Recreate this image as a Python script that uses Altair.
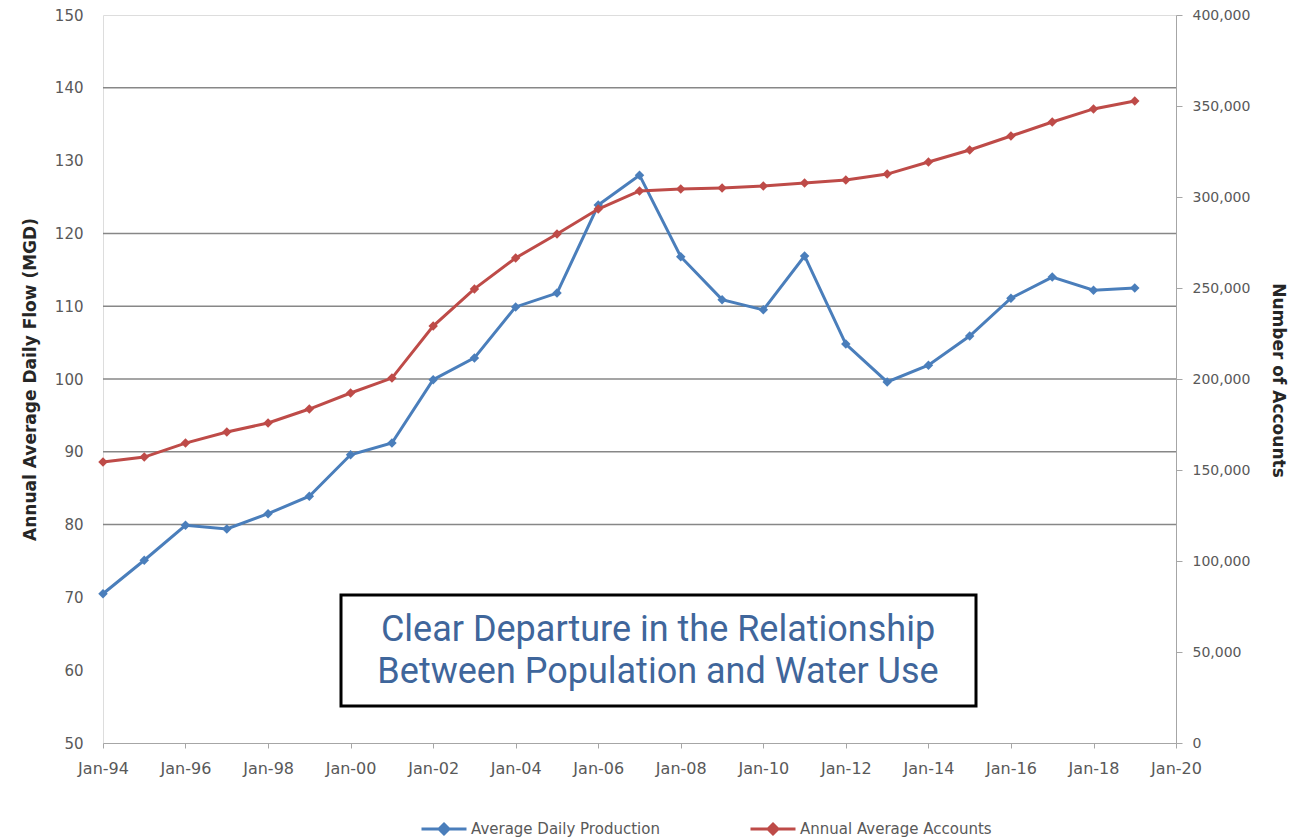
import altair as alt
import pandas as pd

years = list(range(1994, 2020))
production = [70.5, 75.1, 79.9, 79.4, 81.5, 83.9, 89.6, 91.2, 99.9, 102.9, 109.9, 111.8, 123.9,
              128.0, 116.8, 110.9, 109.5, 116.9, 104.8, 99.6, 101.9, 105.9, 111.1, 114.0, 112.2, 112.5]
accounts = [154400, 157100, 164800, 170900, 175800, 183500, 192300, 200500, 229100, 249500,
            266500, 279700, 293400, 303300, 304400, 305000, 306000, 307700, 309300, 312600,
            319200, 325800, 333500, 341200, 348400, 352700]
left_ticks = [50, 60, 70, 80, 90, 100, 110, 120, 130, 140, 150]
right_ticks = [0, 50000, 100000, 150000, 200000, 250000, 300000, 350000, 400000]
grid_values = [80, 90, 100, 110, 120, 140]
x_tick_years = list(range(1994, 2021, 2))
series_names = ["Average Daily Production", "Annual Average Accounts"]
series_colors = ["#4A7EBB", "#BE4B48"]
note_lines = ["Clear Departure in the Relationship", "Between Population and Water Use"]

def ms(y):
    return int(pd.Timestamp(f"{y}-01-01", tz="UTC").value // 10**6)

prod_df = pd.DataFrame({"date": [ms(y) for y in years], "value": production, "series": series_names[0]})
acc_df = pd.DataFrame({"date": [ms(y) for y in years], "value": accounts, "series": series_names[1]})
grid_df = pd.DataFrame({"value": grid_values})

FONT = "DejaVu Sans"
LABEL_COLOR = "#595959"

x_enc = alt.X(
    "date:T",
    scale=alt.Scale(type="utc", domain=[ms(1994), ms(2020)]),
    axis=alt.Axis(values=[ms(y) for y in x_tick_years], labelExpr="utcFormat(datum.value, '%b-%y')",
                  title=None, grid=False, tickSize=5, tickColor="#a6a6a6", domainColor="#a6a6a6",
                  labelPadding=12, labelFontSize=16, labelColor=LABEL_COLOR, labelFont=FONT,
                  labelFlush=False, labelOverlap=False),
)

color_enc = alt.Color(
    "series:N",
    scale=alt.Scale(domain=series_names, range=series_colors),
    legend=alt.Legend(
        title=None, orient="none", legendX=317, legendY=790, direction="horizontal",
        symbolType="M-1,0L1,0M0,-0.22L0.22,0L0,0.22L-0.22,0Z", symbolSize=2025,
        symbolStrokeWidth=3, labelFontSize=15, labelColor=LABEL_COLOR, labelFont=FONT,
        columnPadding=84, labelOffset=3, labelLimit=400,
    ),
)

left_scale = alt.Scale(domain=[50, 150], nice=False, zero=False)
right_scale = alt.Scale(domain=[0, 400000], nice=False)

left_axis = alt.Axis(values=left_ticks, title="Annual Average Daily Flow (MGD)", orient="left",
                     grid=False, ticks=False, domain=False, labelPadding=20, labelFontSize=15,
                     labelColor=LABEL_COLOR, labelFont=FONT, titleFont=FONT, titleFontSize=17,
                     titleFontWeight="bold", titleColor="#262626", titleX=-73, titleY=364,
                     titleAngle=270, titleAlign="center", titleBaseline="middle")

grid = alt.Chart(grid_df).mark_rule(color="#878787", strokeWidth=1.5).encode(
    y=alt.Y("value:Q", scale=left_scale, axis=left_axis)
)

prod_line = alt.Chart(prod_df).mark_line(
    strokeWidth=3,
    point=alt.OverlayMarkDef(shape="diamond", size=90, filled=True, color=series_colors[0]),
).encode(
    x=x_enc,
    y=alt.Y("value:Q", scale=left_scale, axis=left_axis),
    color=color_enc,
)

left_layer = alt.layer(grid, prod_line)

acc_line = alt.Chart(acc_df).mark_line(
    strokeWidth=3,
    point=alt.OverlayMarkDef(shape="diamond", size=90, filled=True, color=series_colors[1]),
).encode(
    x=x_enc,
    y=alt.Y("value:Q", scale=right_scale,
            axis=alt.Axis(values=right_ticks, labelExpr="format(datum.value, ',')",
                          title="Number of Accounts", orient="right",
                          grid=False, tickSize=6, tickColor="#a6a6a6", domainColor="#a6a6a6",
                          labelPadding=10, labelFontSize=14, labelColor=LABEL_COLOR, labelFont=FONT,
                          titleFont=FONT, titleFontSize=17, titleFontWeight="bold", titleColor="#262626",
                          titleX=101, titleY=365, titleAngle=90, titleAlign="center",
                          titleBaseline="middle")),
    color=color_enc,
)

box = alt.Chart(pd.DataFrame({"k": [0]})).mark_rect(
    fill="white", stroke="black", strokeWidth=3
).encode(x=alt.value(238), x2=alt.value(873), y=alt.value(580), y2=alt.value(691))

note = alt.Chart(pd.DataFrame({"k": [0]})).mark_text(
    font="Roboto", fontSize=36, color="#3F669B", align="center",
    baseline="middle", lineHeight=42,
).encode(x=alt.value(555), y=alt.value(615), text=alt.value(note_lines))

chart = alt.layer(left_layer, acc_line, box, note).resolve_scale(
    y="independent"
).properties(
    width=1073, height=728,
    autosize=alt.AutoSizeParams(type="none"),
    padding={"left": 95, "top": 7, "right": 120, "bottom": 97},
).configure_view(stroke="#a6a6a6", strokeWidth=1.5).configure(background="white")

chart.save("out.html", embed_options={"renderer": "svg", "actions": False})
